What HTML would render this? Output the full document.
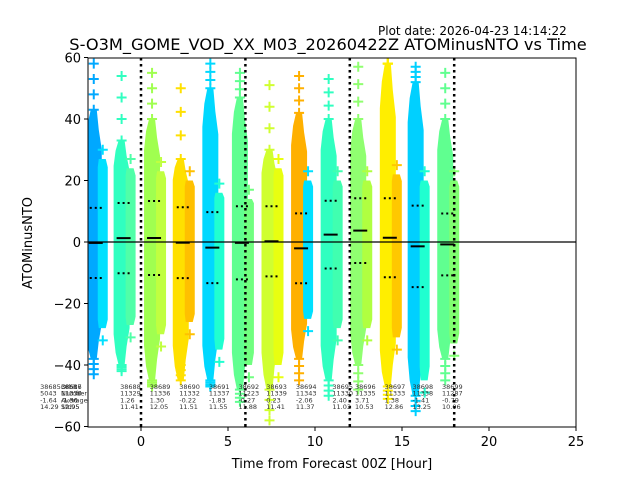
<!DOCTYPE html>
<html><head><meta charset="utf-8"><style>
body{margin:0;background:#fff;}
svg{display:block;font-family:"DejaVu Sans","Liberation Sans",sans-serif;}
</style></head><body>
<svg id="chart" width="640" height="480" xmlns="http://www.w3.org/2000/svg">
<rect width="640" height="480" fill="#fff"/>
<text x="378" y="35" font-size="12">Plot date: 2026-04-23 14:14:22</text>
<text x="328" y="50" font-size="16.2" text-anchor="middle">S-O3M_GOME_VOD_XX_M03_20260422Z ATOMinusNTO vs Time</text>
<g id="marks"></g>
<rect x="88" y="58" width="488" height="369" fill="none" stroke="#000" stroke-width="1"/>
<g id="axes"></g>
<text x="332" y="468" font-size="13" text-anchor="middle">Time from Forecast 00Z [Hour]</text>
<text x="32" y="243" font-size="13" text-anchor="middle" transform="rotate(-90 32 243)">ATOMinusNTO</text>
</svg>
<script>
const centers=[-2.6,-1.0,0.75,2.4,4.1,5.8,7.5,9.2,10.9,12.6,14.3,15.9,17.6];
const leftTop=[43,33,40,27,50,47,30,42,40,40,58,52,40];
const leftBot=[-38,-40,-45,-45,-45,-48,-48,-38,-45,-40,-47,-50,-38];
const rightTop=[27,24,23,20,16,14,24,20,20,20,22,20,20];
const rightBot=[-28,-27,-30,-26,-35,-40,-40,-25,-28,-28,-31,-45,-33];
const outTop=[58,54,55,50,58,55,51,54,53,57,58,57,55];
const outBot=[-43,-42,-47,-40,-47,-52,-58,-45,-50,-48,-51,-55,-45];
const colorA=['#00a8ff','#30ffc0','#a0ff50','#ffe000','#00d8ff','#60ff90','#d0ff30','#ffb000','#30ffc0','#90ff70','#ffee00','#00d0ff','#60ff90'];
const colorB=['#00e0ff','#50ffa8','#c0ff40','#ffc000','#20ffd0','#70ff80','#e8ff10','#00e0ff','#40ffb0','#b0ff40','#ffc800','#20ffd0','#80ff70'];
const means=[-0.3,1.26,1.30,-0.22,-1.83,-0.27,0.23,-2.06,2.40,3.71,1.38,-1.41,-0.79];
const stds=[11.4,11.41,12.05,11.51,11.55,11.88,11.41,11.37,11.03,10.53,12.86,13.25,10.06];
const annOrbit=['38685','38686','38687','38688','38689','38690','38691','38692','38693','38694','38695','38696','38697','38698','38699'];
const annNum=['5043','11336','11330','11329','11336','11332','11337','11223','11339','11343','11330','11335','11333','11338','11287'];
const annAvg=['-1.64','-1.36','-1.36','1.26','1.30','-0.22','-1.83','-0.27','0.23','-2.06','2.40','3.71','1.38','-1.41','-0.79'];
const annStd=['14.29','12.95','12.95','11.41','12.05','11.51','11.55','11.88','11.41','11.37','11.03','10.53','12.86','13.25','10.06'];
const annX=[-5.8,-4.6,-4.6,-1.2,0.5,2.2,3.9,5.6,7.2,8.9,11.0,12.3,14.0,15.6,17.3];
const xTicks=[0,5,10,15,20,25];
const yTicks=[-60,-40,-20,0,20,40,60];
const vLines=[0,6,12,18];
const X=v=>141+v*17.4, Y=v=>242-v*3.075;
const NS='http://www.w3.org/2000/svg';
const marks=document.getElementById('marks'), axes=document.getElementById('axes');
function mk(tag,attrs,parent){const e=document.createElementNS(NS,tag);for(const k in attrs)e.setAttribute(k,attrs[k]);parent.appendChild(e);return e;}
const cp=mk('clipPath',{id:'clip'},marks);mk('rect',{x:88,y:58,width:488,height:369},cp);
const g=mk('g',{'clip-path':'url(#clip)'},marks);
function plus(x,y,c,parent){return mk('path',{d:`M${x-5} ${y}h10M${x} ${y-5}v10`,stroke:c,'stroke-width':2},parent);}
function pts(a){return a.map(p=>p.join(',')).join(' ');}
centers.forEach((c,i)=>{
  const cx=X(c);
  const gg=mk('g',{},g);
  
  
  const t=leftTop[i], b=leftBot[i];
  const l=mk('polygon',{points:pts([[cx-5,Y(t)],[cx+1,Y(t)],[cx+3,Y(t*0.85)],[cx+6,Y(t*0.7)],[cx+6,Y(b*0.7)],[cx+3,Y(b*0.85)],[cx+1,Y(b)],[cx-5,Y(b)],[cx-8,Y(b*0.9)],[cx-10,Y(b*0.75)],[cx-10,Y(t*0.75)],[cx-8,Y(t*0.9)]]),fill:colorA[i]},gg);
  
  
  const rt=rightTop[i], rb=rightBot[i];
  const r=mk('polygon',{points:pts([[cx+3,Y(rt)],[cx+10,Y(rt)],[cx+12,Y(rt*0.9)],[cx+12,Y(rb*0.9)],[cx+10,Y(rb)],[cx+3,Y(rb)],[cx+2,Y(rb*0.9)],[cx+2,Y(rt*0.9)]]),fill:colorB[i]},gg);
  
  
  for(let k=0;k<4;k++){plus(cx-2,Y(t+(outTop[i]-t)*k/3),colorA[i],gg);plus(cx-2,Y(b+(outBot[i]-b)*k/3),colorA[i],gg);}
  plus(cx+7,Y(rt+3),colorB[i],gg);plus(cx+7,Y(rb-4),colorB[i],gg);
  const m=mk('line',{x1:cx-7,x2:cx+7,y1:Y(means[i]),y2:Y(means[i]),stroke:'#000','stroke-width':2},gg);
  
  
  [means[i]+stds[i],means[i]-stds[i]].forEach(v=>{
    const d=mk('line',{x1:cx-6,x2:cx+6,y1:Y(v),y2:Y(v),stroke:'#000','stroke-width':2,'stroke-dasharray':'2 3'},gg);
    
    
  });
});
vLines.forEach(v=>{const l=mk('line',{x1:X(v),x2:X(v),y1:58,y2:427,stroke:'#000','stroke-width':2.5,'stroke-dasharray':'2.5 3.5'},g);
  
  });
const zl=mk('line',{x1:88,x2:576,y1:Y(0),y2:Y(0),stroke:'#000','stroke-width':1.2},g);


annOrbit.forEach((o,i)=>{
  const x=X(annX[i]);
  [o,annNum[i],annAvg[i],annStd[i]].forEach((t,k)=>{
    const e=mk('text',{x:x,y:389+k*6.7,'font-size':6.5,fill:'#333'},marks);e.textContent=t;
    
    
  });
});
['Orbit','Number','Average','Std'].forEach((t,k)=>{const e=mk('text',{x:X(-4.6),y:389+k*6.7,'font-size':6.5,fill:'#333'},marks);e.textContent=t;
  
  });
xTicks.forEach(v=>{mk('line',{x1:X(v),x2:X(v),y1:427,y2:431,stroke:'#000'},axes);
  const t=mk('text',{x:X(v),y:446,'font-size':13,'text-anchor':'middle'},axes);t.textContent=v;
  
  });
yTicks.forEach(v=>{mk('line',{x1:84,x2:88,y1:Y(v),y2:Y(v),stroke:'#000'},axes);
  const t=mk('text',{x:81,y:Y(v)+5,'font-size':13,'text-anchor':'end'},axes);t.textContent=(v<0?'\u2212'+(-v):v);
  
  });
</script>
</body></html>
